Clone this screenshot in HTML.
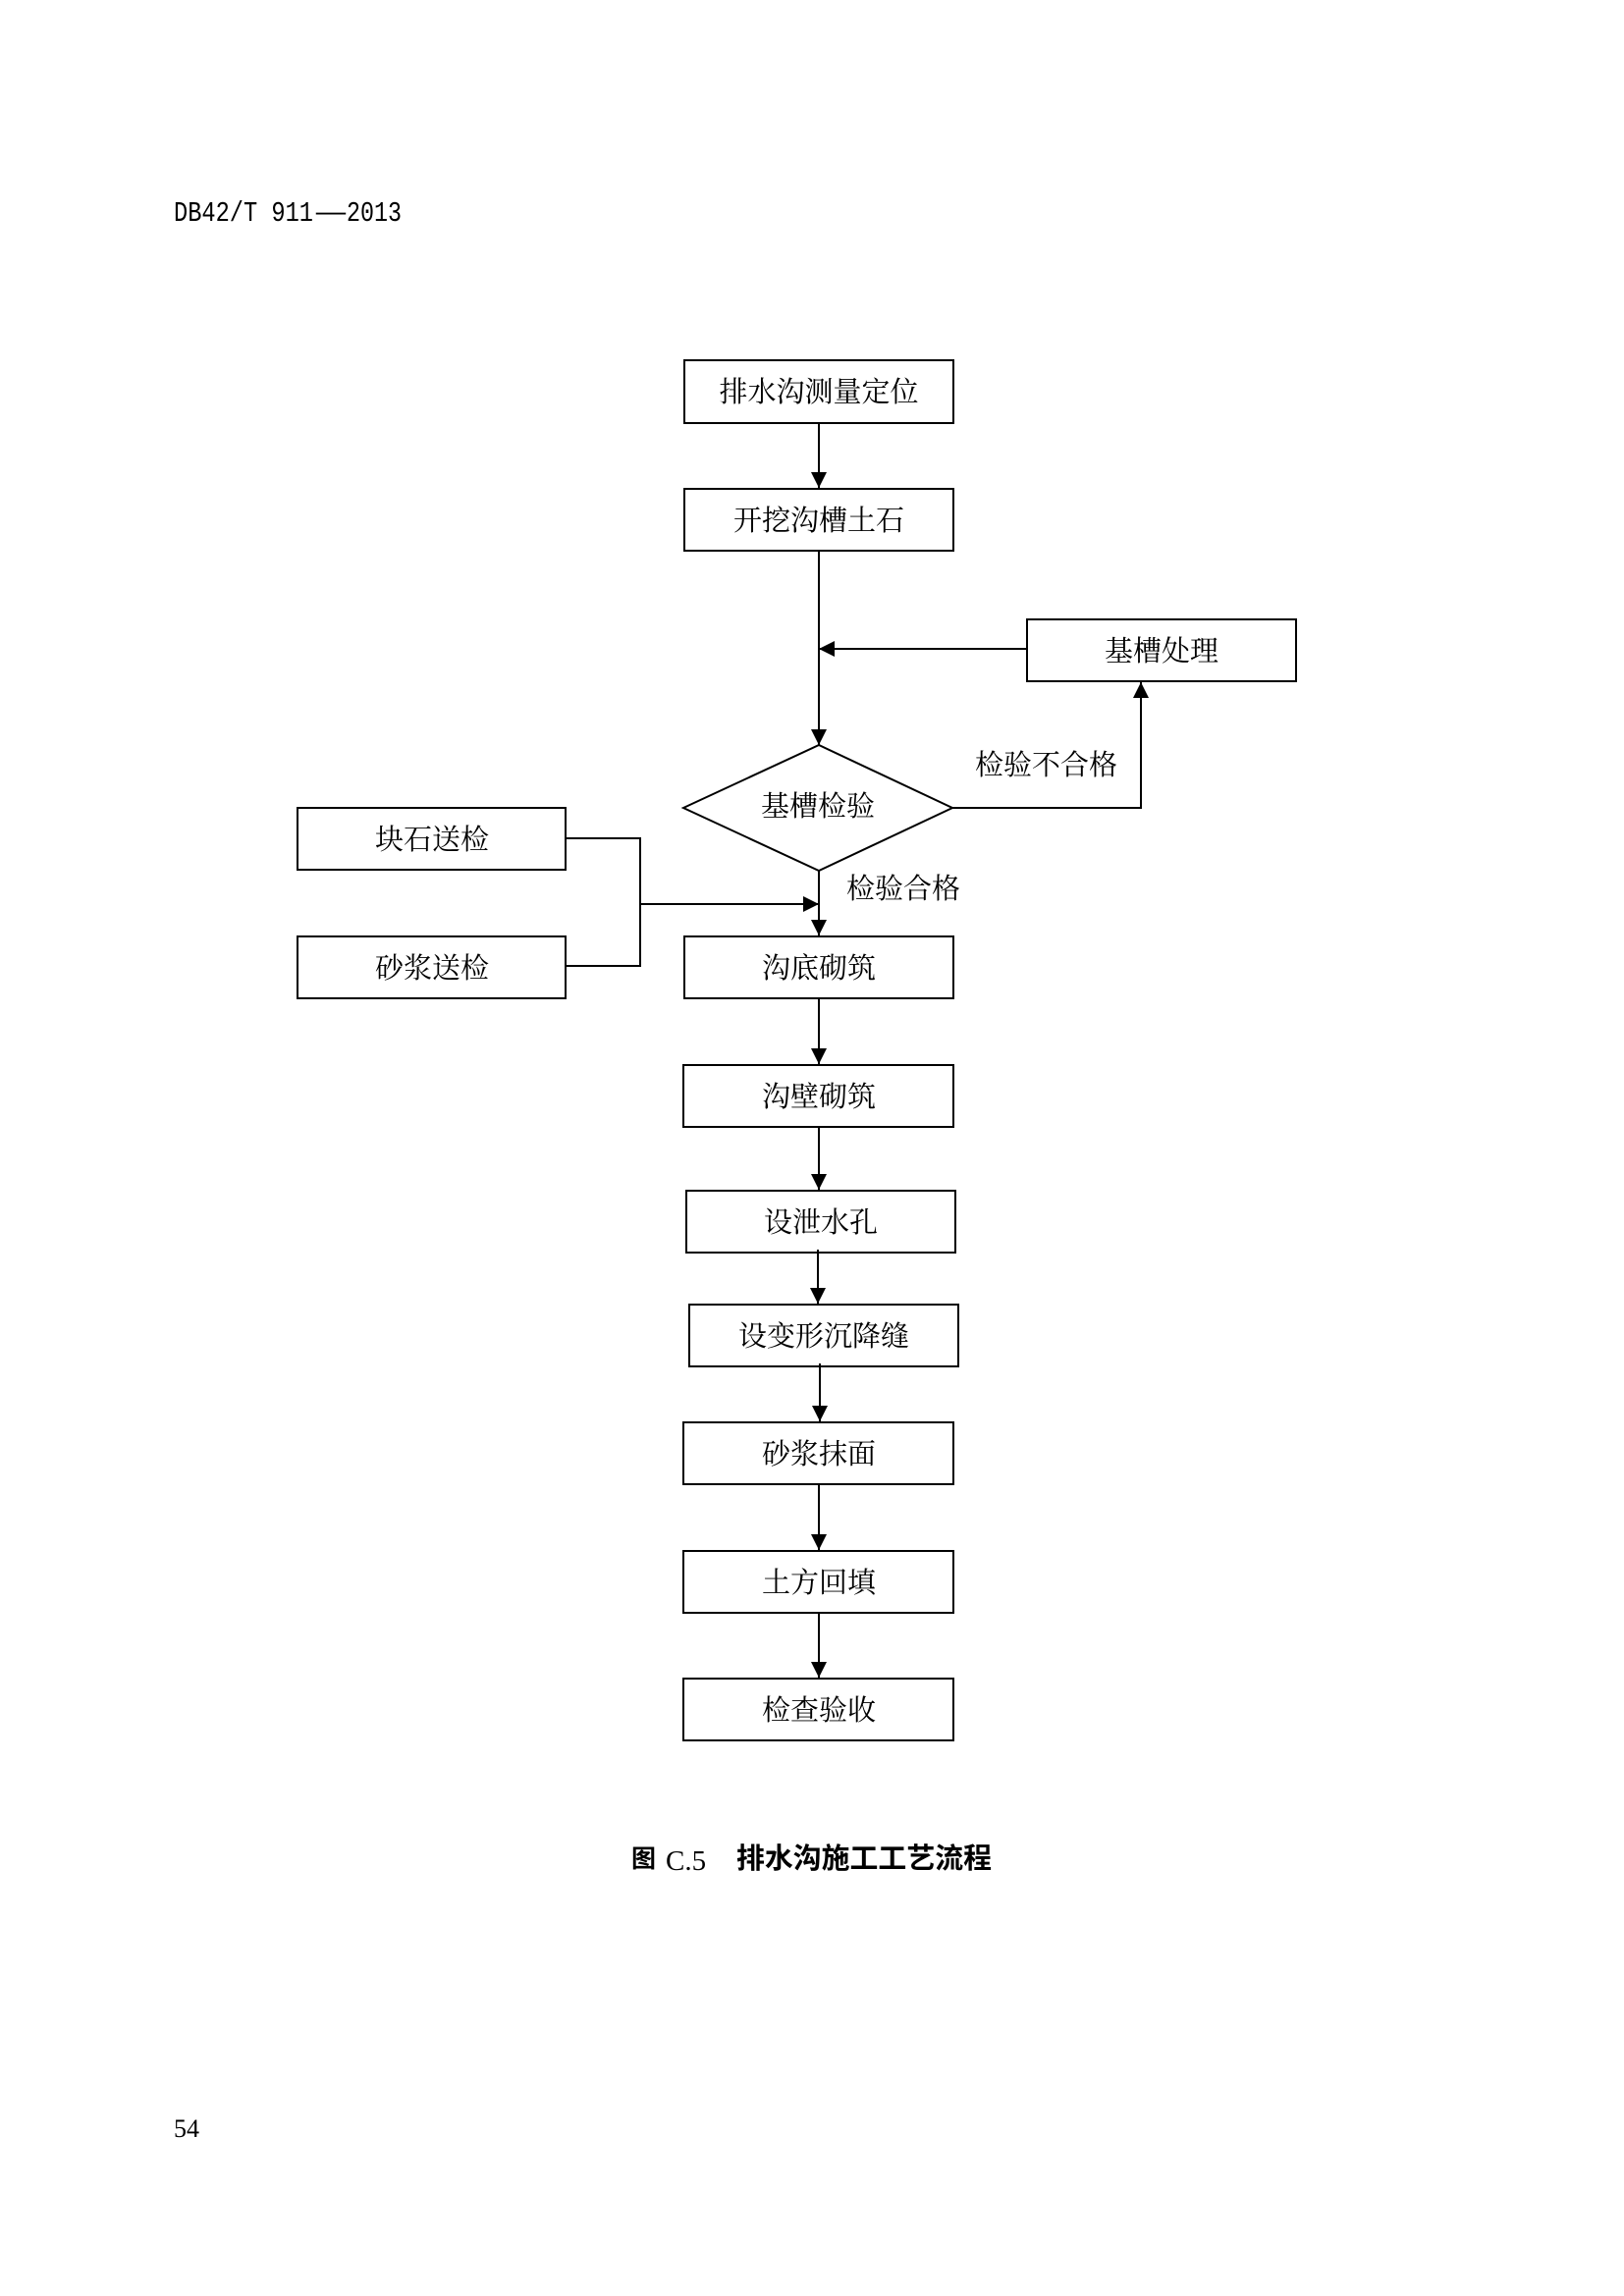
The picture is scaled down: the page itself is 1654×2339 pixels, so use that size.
<!DOCTYPE html>
<html>
<head>
<meta charset="utf-8">
<style>
  html, body { margin: 0; padding: 0; background: #fff; }
  body { width: 1654px; height: 2339px; overflow: hidden; }
  svg { display: block; }
  .bt { font-family: "Liberation Serif", "Noto Serif CJK SC", serif; font-size: 29px; fill: #000; }
</style>
</head>
<body>
<svg width="1654" height="2339" viewBox="0 0 1654 2339" xmlns="http://www.w3.org/2000/svg">
  <defs>
    <marker id="ah" viewBox="0 0 16 16" refX="16" refY="8" markerWidth="16" markerHeight="16" markerUnits="userSpaceOnUse" orient="auto">
      <path d="M0,0 L16,8 L0,16 Z" fill="#000"/>
    </marker>
  </defs>

  <!-- Header -->
  <text x="177" y="225" font-family="Liberation Mono, monospace" font-size="29" textLength="142" lengthAdjust="spacingAndGlyphs" fill="#000">DB42/T 911</text>
  <text x="322" y="225" font-family="Liberation Mono, monospace" font-size="29" textLength="30" lengthAdjust="spacingAndGlyphs" fill="#000">—</text>
  <text x="353" y="225" font-family="Liberation Mono, monospace" font-size="29" textLength="56" lengthAdjust="spacingAndGlyphs" fill="#000">2013</text>

  <g fill="#fff" stroke="#000" stroke-width="2">
    <rect x="697" y="367" width="274" height="64"/>
    <rect x="697" y="498" width="274" height="63"/>
    <rect x="1046" y="631" width="274" height="63"/>
    <polygon points="696,823 834,759 970,823 834,887"/>
    <rect x="303" y="823" width="273" height="63"/>
    <rect x="303" y="954" width="273" height="63"/>
    <rect x="697" y="954" width="274" height="63"/>
    <rect x="696" y="1085" width="275" height="63"/>
    <rect x="699" y="1213" width="274" height="63"/>
    <rect x="702" y="1329" width="274" height="63"/>
    <rect x="696" y="1449" width="275" height="63"/>
    <rect x="696" y="1580" width="275" height="63"/>
    <rect x="696" y="1710" width="275" height="63"/>
  </g>

  <g stroke="#000" stroke-width="2" fill="none">
    <line x1="834" y1="432" x2="834" y2="497" marker-end="url(#ah)"/>
    <line x1="834" y1="562" x2="834" y2="759" marker-end="url(#ah)"/>
    <line x1="1045" y1="661" x2="834" y2="661" marker-end="url(#ah)"/>
    <polyline points="970,823 1162,823 1162,695" marker-end="url(#ah)"/>
    <line x1="834" y1="887" x2="834" y2="953" marker-end="url(#ah)"/>
    <polyline points="577,854 652,854 652,984 577,984"/>
    <line x1="652" y1="921" x2="834" y2="921" marker-end="url(#ah)"/>
    <line x1="834" y1="1018" x2="834" y2="1084" marker-end="url(#ah)"/>
    <line x1="834" y1="1149" x2="834" y2="1212" marker-end="url(#ah)"/>
    <line x1="833" y1="1273" x2="833" y2="1328" marker-end="url(#ah)"/>
    <line x1="835" y1="1389" x2="835" y2="1448" marker-end="url(#ah)"/>
    <line x1="834" y1="1513" x2="834" y2="1579" marker-end="url(#ah)"/>
    <line x1="834" y1="1644" x2="834" y2="1709" marker-end="url(#ah)"/>
  </g>

  <g class="bt" text-anchor="middle" dominant-baseline="central">
    <text x="834" y="400">排水沟测量定位</text>
    <text x="834" y="531">开挖沟槽土石</text>
    <text x="1183" y="664">基槽处理</text>
    <text x="833" y="822">基槽检验</text>
    <text x="440" y="856">块石送检</text>
    <text x="440" y="987">砂浆送检</text>
    <text x="834" y="987">沟底砌筑</text>
    <text x="834" y="1118">沟壁砌筑</text>
    <text x="836" y="1246">设泄水孔</text>
    <text x="839" y="1362">设变形沉降缝</text>
    <text x="834" y="1482">砂浆抹面</text>
    <text x="834" y="1613">土方回填</text>
    <text x="834" y="1743">检查验收</text>
  </g>
  <g class="bt" dominant-baseline="central">
    <text x="993" y="780">检验不合格</text>
    <text x="862" y="906">检验合格</text>
  </g>

  <!-- Caption -->
  <text x="643" y="1894" dominant-baseline="central" font-family="Liberation Sans, Noto Sans CJK SC, sans-serif" font-size="25" font-weight="bold" fill="#000">图</text>
  <text x="678" y="1905" font-family="Liberation Serif, serif" font-size="29" fill="#000">C.5</text>
  <text x="750" y="1894" dominant-baseline="central" font-family="Liberation Sans, Noto Sans CJK SC, sans-serif" font-size="29" font-weight="bold" textLength="260" lengthAdjust="spacingAndGlyphs" fill="#000">排水沟施工工艺流程</text>

  <!-- Page number -->
  <text x="177" y="2177" font-family="Liberation Serif, serif" font-size="26" fill="#000">54</text>
</svg>
</body>
</html>
